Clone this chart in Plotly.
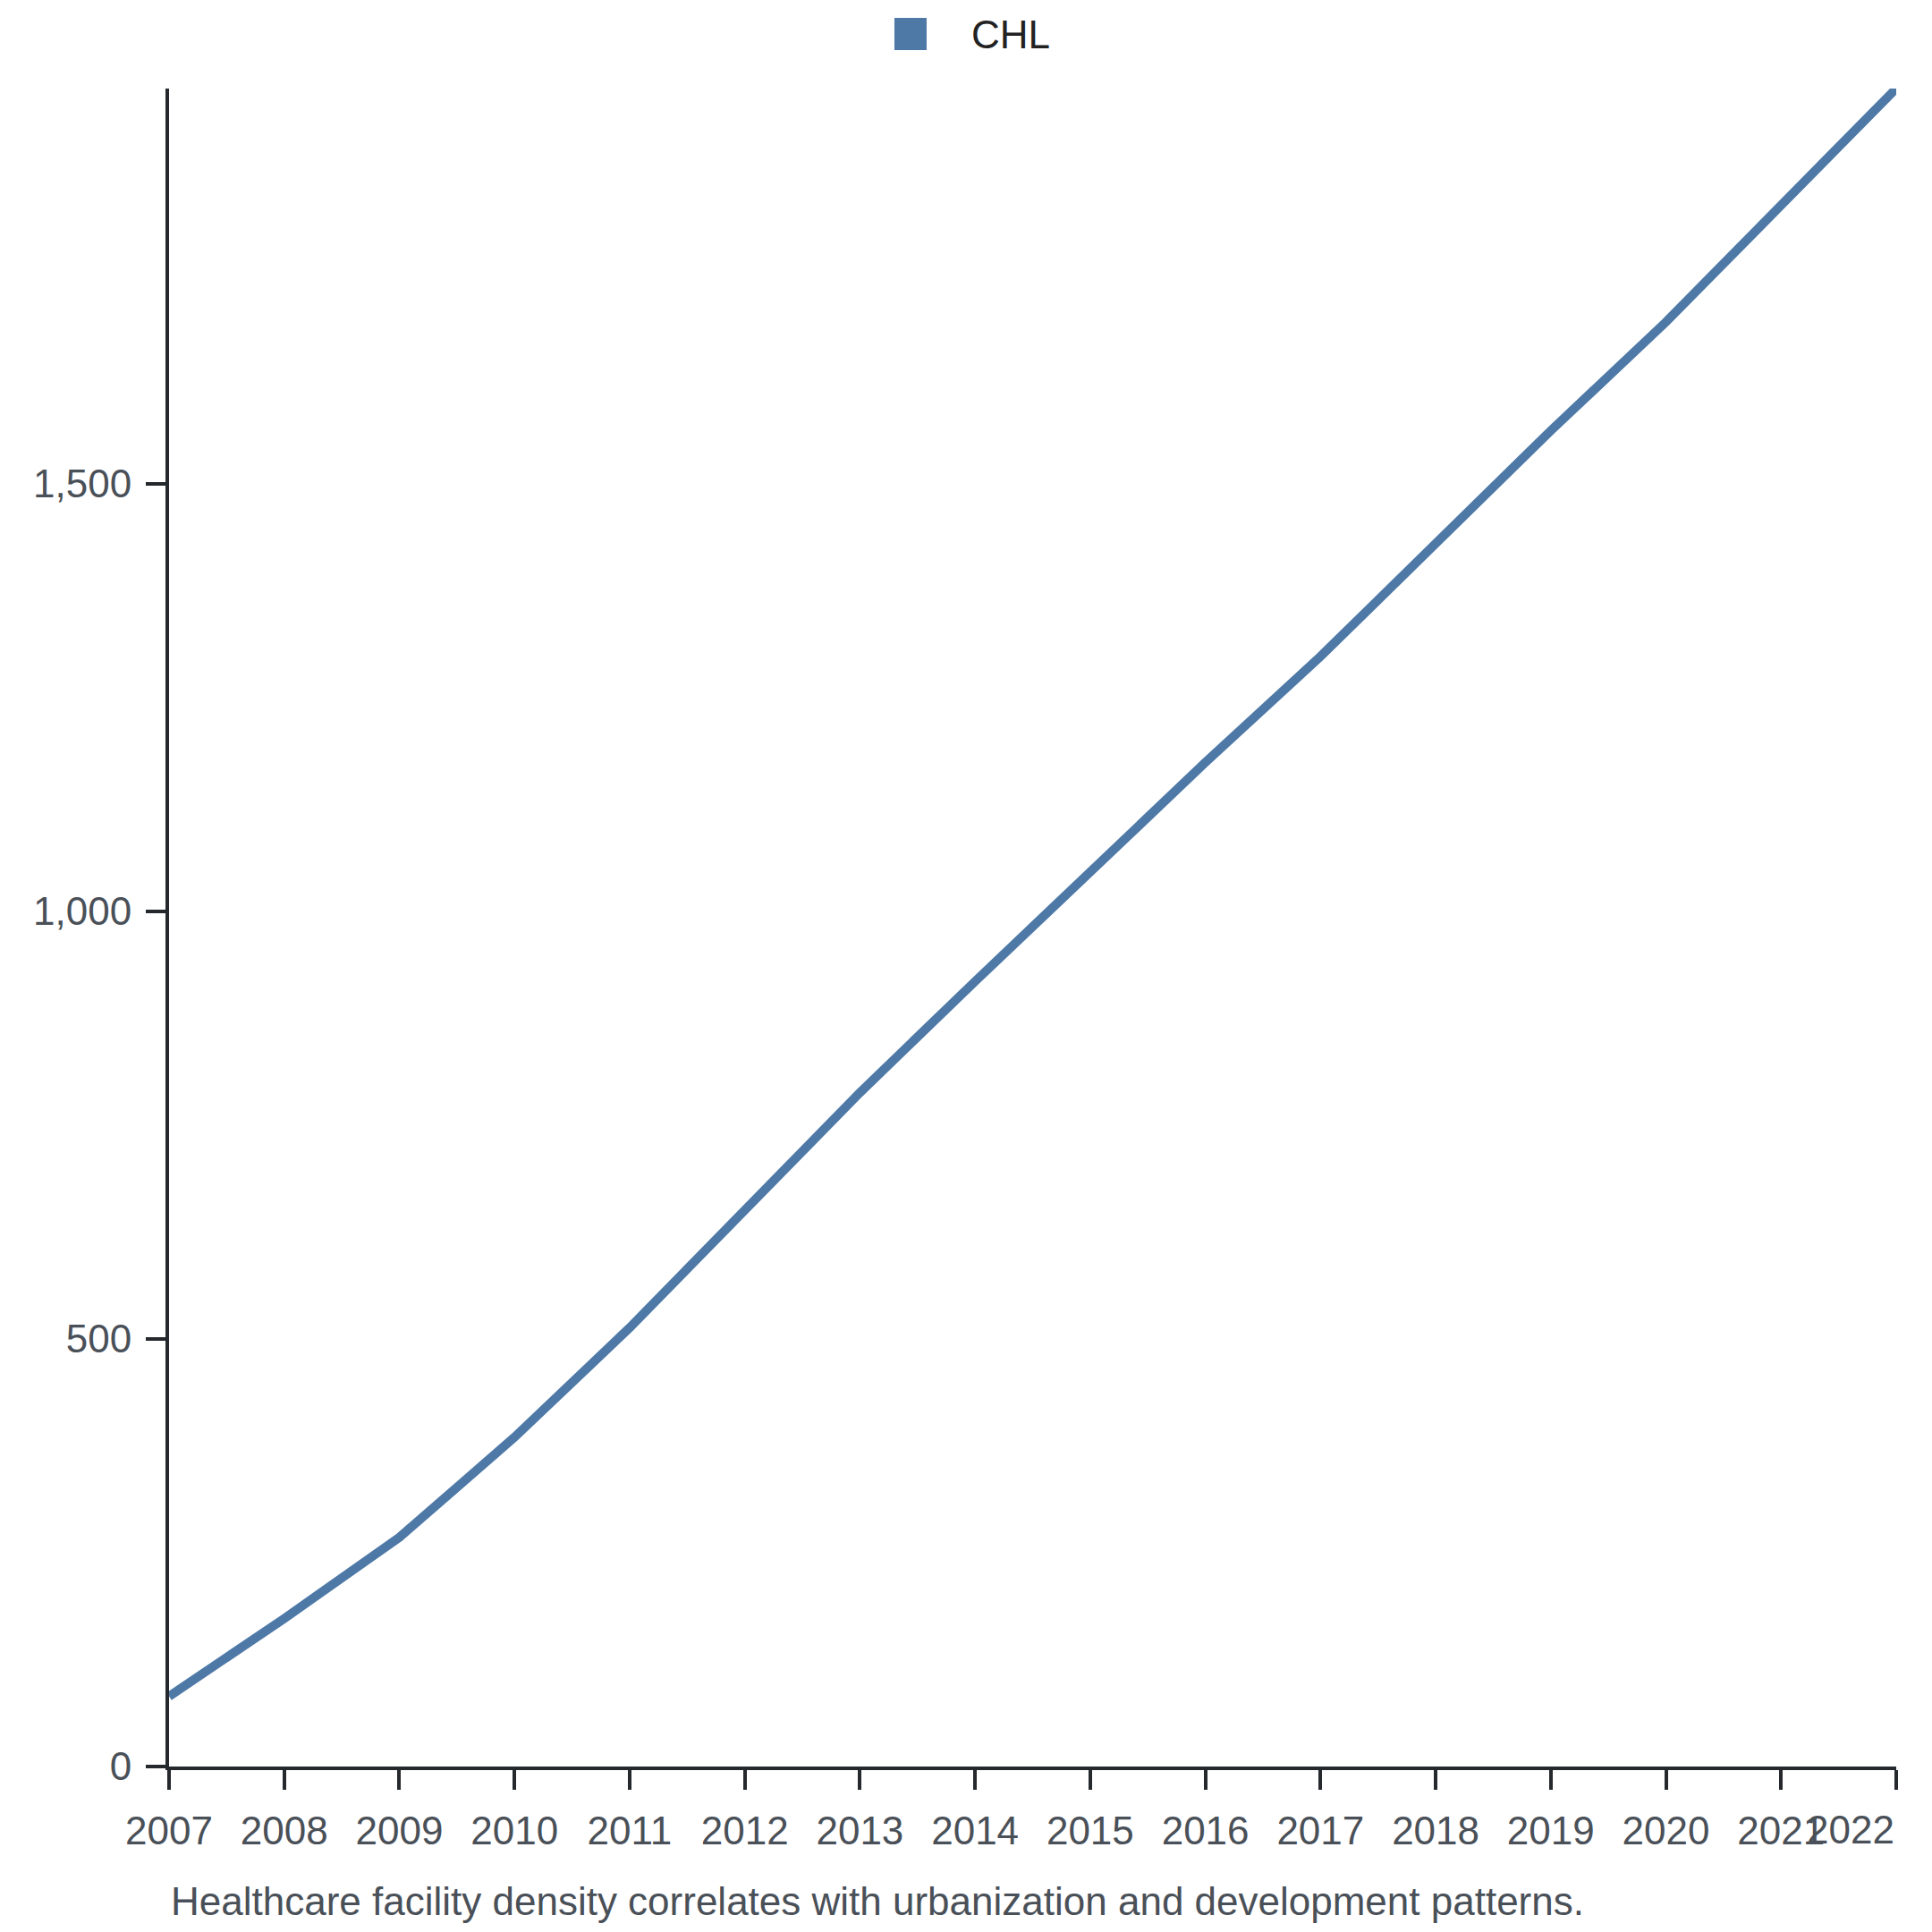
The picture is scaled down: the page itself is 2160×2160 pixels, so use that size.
import plotly.graph_objects as go

# data
years = list(range(2007, 2023))
chl_values = [82, 173, 268, 385, 513, 652, 788, 918, 1047, 1174, 1298, 1431, 1562, 1689, 1825, 1962]
y_ticks = [0, 500, 1000, 1500]
series_name = 'CHL'
caption = 'Healthcare facility density correlates with urbanization and development patterns.'

line_color = '#4e79a7'
axis_color = '#25282c'
label_color = '#4a5058'
font_family = 'Liberation Sans, Arial, sans-serif'
font_size = 44

fig = go.Figure()
fig.add_trace(go.Scatter(
    name=series_name,
    x=years,
    y=chl_values,
    mode='lines',
    line=dict(color=line_color, width=10),
    showlegend=False,
))

# last tick label sits flush with the axis end, so it is placed separately
tick_text = [str(y) for y in years[:-1]] + ['']

axis_style = dict(
    showgrid=False,
    zeroline=False,
    showline=True,
    linecolor=axis_color,
    linewidth=4,
    ticks='outside',
    ticklen=22,
    tickwidth=4,
    tickcolor=axis_color,
    tickfont=dict(size=font_size, color=label_color),
)

fig.update_layout(
    width=2160,
    height=2160,
    margin=dict(l=181, r=48, t=91, b=193),
    plot_bgcolor='white',
    paper_bgcolor='white',
    font=dict(family=font_family, size=font_size, color=label_color),
    xaxis=dict(
        range=[years[0], years[-1]],
        tickvals=years,
        ticktext=tick_text,
        ticklabelstandoff=8,
        **axis_style,
    ),
    yaxis=dict(
        range=[0, max(chl_values)],
        tickvals=y_ticks,
        tickformat=',',
        ticklabelstandoff=7,
        **axis_style,
    ),
)

# legend: square swatch + label
fig.add_shape(
    type='rect',
    xref='paper', yref='paper',
    xsizemode='pixel', ysizemode='pixel',
    xanchor=0.4293, yanchor=1.0325,
    x0=-18, x1=18, y0=-18, y1=18,
    fillcolor=line_color,
    line=dict(width=0),
)
fig.add_annotation(
    text=series_name,
    xref='paper', yref='paper',
    x=0.4635, y=1.0325,
    xanchor='left', yanchor='middle',
    showarrow=False,
    font=dict(size=font_size, color='#222222', family=font_family),
)

fig.add_annotation(
    text=str(years[-1]),
    xref='x', yref='paper',
    x=years[-1], y=-0.0378,
    xanchor='right', yanchor='middle',
    showarrow=False,
    font=dict(size=font_size, color=label_color, family=font_family),
)

fig.add_annotation(
    text=caption,
    xref='paper', yref='paper',
    x=0, y=-0.080,
    xanchor='left', yanchor='middle',
    showarrow=False,
    font=dict(size=font_size, color=label_color, family=font_family),
)

fig.write_html('out.html')
